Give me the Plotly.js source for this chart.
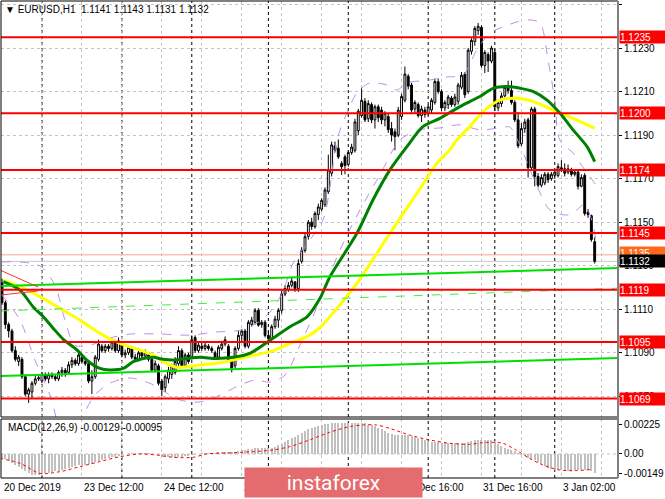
<!DOCTYPE html>
<html><head><meta charset="utf-8">
<script src="https://cdn.plot.ly/plotly-3.0.1.min.js"></script>
<style>html,body{margin:0;padding:0;background:#fff}#chart{width:665px;height:499px}</style>
</head><body><div id="chart"></div>
<script>
// ---------- DATA ----------
const symbolTitle = "\u25BC EURUSD,H1  1.1141 1.1143 1.1131 1.1132";
const macdTitle = "MACD(12,26,9) -0.00129 -0.00095";

const open = [
1.1122,1.1113,1.1103,1.1100,1.1091,1.1086,1.1087,1.1079,1.1071,1.1072,
1.1076,1.1078,1.1077,1.1080,1.1078,1.1080,1.1079,1.1078,1.1081,1.1082,
1.1081,1.10845,1.10865,1.1085,1.1088,1.1086,1.1085,1.1077,1.1079,1.1087,
1.1093,1.1091,1.1093,1.1092,1.1095,1.1091,1.1094,1.1089,1.1090,1.1092,
1.1088,1.1087,1.1090,1.10885,1.1089,1.1087,1.1082,1.1084,1.1077,1.1074,
1.1078,1.1080,1.1081,1.1085,1.1091,1.1084,1.1089,1.1088,1.1097,1.1091,
1.1093,1.1092,1.1093,1.1092,1.1090,1.1088,1.1092,1.1094,1.1093,1.1087,
1.1084,1.1092,1.1098,1.1100,1.1093,1.1103,1.1104,1.11095,1.1103,1.1104,
1.1098,1.10965,1.1102,1.1105,1.11095,1.1117,1.1119,1.1121,1.11225,1.11195,
1.1132,1.1137,1.11435,1.1150,1.1148,1.11535,1.1156,1.1158,1.1164,1.11725,
1.1185,1.1184,1.1177,1.1180,1.11765,1.1182,1.1183,1.1192,1.1199,1.12055,
1.11975,1.1204,1.1197,1.1203,1.12015,1.1197,1.11985,1.1193,1.11915,1.1190,
1.11985,1.1206,1.1217,1.1213,1.1202,1.1204,1.1199,1.12015,1.1200,1.12015,
1.1205,1.12145,1.1210,1.12025,1.1204,1.1207,1.1204,1.12055,1.1212,1.1218,
1.1210,1.12285,1.1233,1.1238,1.12395,1.1222,1.1227,1.1224,1.1228,1.12025,
1.12045,1.1208,1.1212,1.12105,1.1205,1.1197,1.1186,1.1193,1.1197,1.1175,
1.1202,1.1171,1.1167,1.1168,1.1172,1.1170,1.11715,1.11715,1.1175,1.11745,
1.1173,1.1174,1.1172,1.1173,1.11665,1.11715,1.11545,1.1153,1.1141];
const high = [
1.1124,1.1114,1.1104,1.1101,1.1093,1.1089,1.1088,1.1080,1.1074,1.1077,
1.1080,1.1080,1.1081,1.1081,1.1081,1.1081,1.1080,1.1082,1.10835,1.1083,
1.1086,1.1088,1.10875,1.1090,1.1089,1.1087,1.1086,1.1082,1.1089,1.1096,
1.1094,1.1094,1.1094,1.10965,1.1096,1.1097,1.1095,1.10915,1.10935,1.1093,
1.10895,1.1091,1.1091,1.10915,1.1090,1.1088,1.10865,1.1085,1.1078,1.1080,
1.10835,1.1085,1.1088,1.1093,1.1092,1.1090,1.1090,1.1098,1.1098,1.1095,
1.1095,1.10945,1.1094,1.1093,1.1091,1.10935,1.10955,1.10975,1.1094,1.1088,
1.1093,1.1100,1.1101,1.1101,1.1105,1.11065,1.11105,1.11105,1.1105,1.1105,
1.1100,1.1103,1.1107,1.11105,1.11185,1.1121,1.11225,1.1125,1.1123,1.1133,
1.11385,1.1145,1.1151,1.1152,1.1155,1.11585,1.1161,1.1166,1.1181,1.1187,
1.1187,1.1188,1.1178,1.1181,1.1183,1.1186,1.11975,1.1202,1.12115,1.1207,
1.1206,1.1205,1.1204,1.1204,1.1203,1.1201,1.1200,1.1196,1.1193,1.1203,
1.1209,1.12215,1.1218,1.1214,1.1206,1.1205,1.12035,1.1203,1.1204,1.1207,
1.1216,1.1216,1.1211,1.1206,1.12085,1.1208,1.1209,1.1214,1.1219,1.1219,
1.1230,1.12345,1.1240,1.12415,1.12405,1.1229,1.1228,1.1231,1.1230,1.1206,
1.12095,1.1213,1.1215,1.1215,1.1206,1.12005,1.11955,1.11975,1.1198,1.1203,
1.1203,1.11725,1.1172,1.1173,1.1173,1.1173,1.11745,1.1177,1.11785,1.1177,
1.11765,1.1175,1.1174,1.1174,1.1172,1.11725,1.1156,1.11535,1.1143];
const low = [
1.1112,1.1101,1.1097,1.1090,1.1086,1.1084,1.1078,1.1070,1.1067,1.1069,
1.1075,1.1077,1.1076,1.1077,1.1076,1.1078,1.1077,1.1077,1.1079,1.1079,
1.1080,1.1083,1.1084,1.1084,1.1085,1.1084,1.1076,1.1071,1.1078,1.1086,
1.1090,1.1090,1.10905,1.1091,1.1090,1.1090,1.1088,1.10875,1.1089,1.1087,
1.1086,1.1086,1.10875,1.1087,1.1086,1.1081,1.1081,1.1075,1.1070,1.1072,
1.1076,1.1078,1.1080,1.1084,1.1083,1.1083,1.1085,1.1087,1.1090,1.1090,
1.1091,1.1091,1.1091,1.1090,1.1087,1.1087,1.1091,1.1093,1.1086,1.1081,
1.1083,1.1091,1.1095,1.1092,1.1092,1.1102,1.1103,1.1102,1.11015,1.1097,
1.10945,1.1096,1.1101,1.11015,1.1108,1.1116,1.1118,1.1120,1.1118,1.1118,
1.1131,1.1136,1.1142,1.11465,1.1147,1.1151,1.1155,1.1157,1.1163,1.1171,
1.1182,1.1179,1.11717,1.1172,1.11755,1.1181,1.1182,1.1190,1.1198,1.1196,
1.1196,1.11955,1.1193,1.1196,1.1195,1.1194,1.1191,1.1187,1.1183,1.1189,
1.1197,1.1205,1.1211,1.1200,1.1200,1.1198,1.1196,1.1198,1.1199,1.1200,
1.1204,1.1209,1.1201,1.1201,1.1202,1.1203,1.1203,1.1204,1.1211,1.1207,
1.1209,1.1227,1.1231,1.1236,1.1221,1.12185,1.1219,1.1223,1.1201,1.1201,
1.1203,1.1207,1.1209,1.1204,1.1196,1.1184,1.1185,1.1191,1.11705,1.1174,
1.11665,1.1166,1.1166,1.1167,1.1168,1.1169,1.1170,1.11705,1.1173,1.1171,
1.1172,1.1171,1.1171,1.1165,1.1166,1.1153,1.1152,1.1141,1.1131];
const close = [
1.1113,1.1103,1.1100,1.1091,1.1087,1.1088,1.1079,1.1071,1.1073,1.1076,
1.1078,1.10785,1.1080,1.1078,1.1080,1.1079,1.1078,1.1081,1.1082,1.10805,
1.10845,1.10865,1.1085,1.1089,1.1086,1.1085,1.1077,1.1079,1.1088,1.1094,
1.1091,1.1093,1.1092,1.1095,1.1091,1.10955,1.1089,1.1090,1.10925,1.1088,
1.1087,1.1090,1.10885,1.10905,1.1087,1.1082,1.1085,1.1076,1.1073,1.1079,
1.1082,1.1084,1.1086,1.1091,1.1084,1.1089,1.1086,1.1096,1.1091,1.10935,
1.1092,1.10935,1.1092,1.1091,1.10875,1.10925,1.1094,1.1096,1.1087,1.1083,
1.1092,1.1098,1.1100,1.1093,1.1104,1.1105,1.11095,1.11027,1.1104,1.1098,
1.10965,1.1102,1.11055,1.11095,1.1117,1.11195,1.1121,1.1123,1.11195,1.1131,
1.1137,1.11433,1.1150,1.1148,1.1154,1.1157,1.1160,1.11648,1.1174,1.11855,
1.1183,1.1180,1.11755,1.1176,1.1182,1.11845,1.1196,1.1201,1.1206,1.1197,
1.12045,1.1197,1.1203,1.1198,1.1197,1.1200,1.11925,1.1190,1.11893,1.12015,
1.12077,1.1218,1.12125,1.12015,1.1205,1.1199,1.1202,1.11995,1.1203,1.1206,
1.12146,1.1210,1.12025,1.1205,1.12075,1.1204,1.12075,1.1213,1.12175,1.12085,
1.1229,1.12335,1.1239,1.1240,1.1222,1.1228,1.1224,1.1230,1.1203,1.1205,
1.1208,1.1212,1.12105,1.1205,1.1197,1.1185,1.1193,1.1196,1.1175,1.1202,
1.1171,1.1167,1.11705,1.1172,1.11695,1.1172,1.1173,1.11755,1.1174,1.11725,
1.11745,1.1172,1.1173,1.11665,1.11705,1.1154,1.11535,1.1142,1.1132];

const macdHist = [
-0.00030,-0.00040,-0.00052,-0.00068,-0.00085,-0.00100,-0.00118,-0.00135,-0.00150,-0.00160,
-0.00162,-0.00160,-0.00155,-0.00150,-0.00145,-0.00140,-0.00135,-0.00128,-0.00122,-0.00115,
-0.00108,-0.00100,-0.00095,-0.00088,-0.00085,-0.00082,-0.00080,-0.00075,-0.00065,-0.00055,
-0.00048,-0.00040,-0.00033,-0.00025,-0.00020,-0.00012,-0.00005,0.00000,0.00005,0.00005,
0.00008,0.00008,0.00008,0.00008,0.00006,0.00003,-0.00002,-0.00010,-0.00020,-0.00024,
-0.00026,-0.00026,-0.00024,-0.00020,-0.00020,-0.00018,-0.00015,-0.00010,-0.00005,0.00000,
0.00005,0.00008,0.00010,0.00010,0.00010,0.00012,0.00014,0.00016,0.00014,0.00012,
0.00016,0.00022,0.00030,0.00032,0.00035,0.00040,0.00048,0.00045,0.00048,0.00045,
0.00044,0.00050,0.00058,0.00068,0.00080,0.00095,0.00110,0.00125,0.00135,0.00150,
0.00165,0.00178,0.00190,0.00200,0.00210,0.00218,0.00225,0.00230,0.00235,0.00238,
0.00240,0.00240,0.00240,0.00240,0.00242,0.00243,0.00243,0.00243,0.00242,0.00238,
0.00228,0.00222,0.00215,0.00205,0.00190,0.00175,0.00162,0.00152,0.00148,0.00147,
0.00147,0.00148,0.00147,0.00140,0.00130,0.00122,0.00118,0.00110,0.00100,0.00095,
0.00095,0.00092,0.00085,0.00082,0.00082,0.00080,0.00082,0.00085,0.00088,0.00085,
0.00092,0.00100,0.00108,0.00112,0.00110,0.00108,0.00108,0.00110,0.00100,0.00075,
0.00060,0.00048,0.00040,0.00030,0.00020,0.00010,-0.00005,-0.00015,-0.00028,-0.00035,
-0.00050,-0.00065,-0.00080,-0.00095,-0.00108,-0.00118,-0.00122,-0.00125,-0.00127,-0.00128,
-0.00130,-0.00130,-0.00128,-0.00127,-0.00125,-0.00124,-0.00122,-0.00135,-0.00150];

const signalIdx = [-0.6,5.4,11.4,17.4,23.4,29.4,35.4,41.4,46.4,51.4,57.4,61.4,69.4,75.4,81.4,86.4,92.4,98.4,104.4,108.4,112.4,116.4,122.4,128.4,134.4,140.4,145.4,150.4,154.4,158.4,162.4,167.4,172.4,177.4];
const signalVal = [-0.00034,-0.00072,-0.00150,-0.00137,-0.00098,-0.00059,-0.00021,0.00000,-0.00008,-0.00026,-0.00026,0.00000,0.00010,0.00018,0.00031,0.00057,0.00109,0.00168,0.00212,0.00225,0.00225,0.00199,0.00147,0.00109,0.00083,0.00075,0.00090,0.00083,0.00031,-0.00034,-0.00085,-0.00124,-0.00129,-0.00119];

const maFastIdx = [0.4,5.4,9.3,12.4,15.4,18.4,22.5,25.4,29.4,32.4,36.4,39.4,42.4,45.4,48.4,51.5,55.5,59.5,64.4,69.4,74.4,80.5,86.5,91.6,95.5,98.5,106.6,111.4,116.5,121.6,126.4,131.5,136.6,140.5,143.5,147.5,151.6,155.6,159.6,163.7,167.6,171.5,175.7,178];
const maFastVal = [1.11227,1.11188,1.11112,1.11066,1.11012,1.10962,1.10913,1.10867,1.10828,1.10821,1.10828,1.10859,1.10874,1.10879,1.10870,1.10867,1.10874,1.10879,1.10874,1.10879,1.10897,1.10958,1.11020,1.11065,1.11150,1.11250,1.11449,1.11602,1.11740,1.11847,1.11939,1.11977,1.12023,1.12054,1.12077,1.12115,1.12123,1.12115,1.12100,1.12061,1.12000,1.11924,1.11847,1.11778];
const maSlowIdx = [0.4,5.4,11.4,17.4,23.4,29.4,35.4,41.4,45.4,49.4,52.4,55.5,59.5,65.5,71.4,74.4,80.5,86.5,91.6,95.5,97.6,106.6,116.5,124.6,130.6,134.5,136.6,140.5,143.5,145.6,149.5,154.6,159.6,165.5,171.5,178];
const maSlowVal = [1.11234,1.11204,1.11158,1.11104,1.11050,1.10989,1.10943,1.10913,1.10890,1.10851,1.10833,1.10836,1.10844,1.10854,1.10874,1.10885,1.10905,1.10943,1.10974,1.11015,1.11050,1.11219,1.11449,1.11632,1.11770,1.11832,1.11878,1.11939,1.11992,1.12023,1.12061,1.12069,1.12054,1.12015,1.11977,1.11931];

const bandUpIdx = [0,5.4,11.4,15.9,18.9,21.9,26.4,32.4,38.4,47.4,56.5,64.0,71.5,76.6,80.5,83.5,85.6,87.4,96.4,98.5,100.6,103.6,106.6,110.5,115.6,118.6,121.6,128.5,133.6,138.4,142.6,146.5,150.5,154.7,158.6,161.6,164,166,167.5,171.5,173.6,175.7,178.4];
const bandUpVal = [1.11317,1.11317,1.11299,1.11211,1.11050,1.10935,1.10935,1.10968,1.10986,1.10986,1.10981,1.10995,1.11004,1.11037,1.11087,1.11156,1.11234,1.11312,1.11510,1.11662,1.11878,1.12002,1.12094,1.12140,1.12130,1.12107,1.12140,1.12153,1.12167,1.12176,1.12291,1.12369,1.12397,1.12420,1.12429,1.12415,1.12245,1.12061,1.11878,1.11818,1.11772,1.11726,1.11671];
const bandLoIdx = [0,5.4,9.9,14.4,18.9,23.4,27.9,32.4,38.4,44.4,49,53.5,59.5,65.5,71.5,76,80.5,85,89.5,95.5,101.5,107.5,113.5,119.5,125.5,131.5,137.5,143.5,149.5,152.5,155.5,158.6,161.6,163.7,165.5,169.7,172.7,174.5,176.6,178.4];
const bandLoVal = [1.11165,1.11050,1.10867,1.10706,1.10499,1.10590,1.10706,1.10760,1.10784,1.10760,1.10719,1.10683,1.10674,1.10706,1.10752,1.10775,1.10765,1.10798,1.10936,1.11142,1.11372,1.11556,1.11717,1.11878,1.11924,1.11933,1.11947,1.11924,1.11933,1.11937,1.11855,1.11740,1.11634,1.11570,1.11547,1.11533,1.11556,1.11579,1.11533,1.11418];

const levels = [1.1235,1.1200,1.1174,1.1145,1.1119,1.1095,1.1069];
const levelLabels = ["1.1235","1.1200","1.1174","1.1145","1.1119","1.1095","1.1069"];
const askPrice = 1.1135, askLabel = "1.1135";
const bidPrice = 1.1132, bidLabel = "1.1132";

const trendUpIdx = [-0.6,185],   trendUpVal = [1.11207,1.11289];
const trendLoIdx = [-0.6,185],   trendLoVal = [1.10793,1.10876];
const trendDashIdx = [-0.6,185], trendDashVal = [1.11092,1.11197];
const redFan1Idx = [-0.6,10.8],  redFan1Val = [1.11280,1.11202];
const redFan2Idx = [-0.6,10.8],  redFan2Val = [1.11165,1.11184];

const priceTicks = [1.1250,1.1230,1.1210,1.1190,1.1170,1.1150,1.1130,1.1110,1.1090,1.1070];
const priceTickText = ["1.1250","1.1230","1.1210","1.1190","1.1170","1.1150","1.1130","1.1110","1.1090","1.1070"];
const macdTicks = [0.00225,0,-0.00149];
const macdTickText = ["0.00225","0.00","-0.00149"];
const timeIdx = [0,24,48,72,96,120,144,168];
const timeLabels = ["20 Dec 2019","23 Dec 12:00","24 Dec 12:00","26 Dec 16:00","27 Dec 16:00","30 Dec 16:00","31 Dec 16:00","3 Jan 02:00"];
const daySeparators = [12,36,57,80,104,128,148,166];
const gridIdx = [0,12,24,36,48,60,72,84,96,108,120,132,144,156,168,180];
const watermarkText = "instaforex";

// ---------- GEOMETRY HELPERS (pixel -> paper) ----------
const W = 665, H = 499, L = 1, R = 47, T = 1, B = 21;
const pw = W - L - R, ph = H - T - B;
const px = x => (x - L) / pw;
const py = y => (H - B - y) / ph;

const barIdx = open.map((_, k) => k);

const traces = [];
traces.push({type:'candlestick', x:barIdx, open:open, high:high, low:low, close:close,
  xaxis:'x', yaxis:'y', whiskerwidth:0,
  increasing:{line:{color:'#000000', width:1}, fillcolor:'#ffffff'},
  decreasing:{line:{color:'#000000', width:1}, fillcolor:'#000000'},
  hoverinfo:'skip'});
const line = (xs, ys, color, width, dash, shape, ax) => ({type:'scatter', mode:'lines', x:xs, y:ys,
  xaxis: ax ? 'x2' : 'x', yaxis: ax ? 'y2' : 'y', hoverinfo:'skip',
  line:{color:color, width:width, dash:dash || 'solid', shape:shape || 'linear', smoothing:0.8}, cliponaxis:true});
traces.push(line(bandUpIdx, bandUpVal, '#c48be8', 1, 'dash', 'spline'));
traces.push(line(bandLoIdx, bandLoVal, '#c48be8', 1, 'dash', 'spline'));
traces.push(line(maSlowIdx, maSlowVal, '#ffff00', 3, 'solid', 'spline'));
traces.push(line(maFastIdx, maFastVal, '#008000', 3, 'solid', 'spline'));
traces.push(line(trendUpIdx, trendUpVal, '#00e000', 2));
traces.push(line(trendLoIdx, trendLoVal, '#00e000', 2));
traces.push(line(trendDashIdx, trendDashVal, '#44ee44', 1, 'dash'));
traces.push(line(redFan1Idx, redFan1Val, '#ff3030', 1));
traces.push(line(redFan2Idx, redFan2Val, '#ff3030', 1));
traces.push({type:'bar', x:barIdx, y:macdHist, xaxis:'x2', yaxis:'y2', marker:{color:'#c0c0c0', line:{width:0}}, width:0.6, hoverinfo:'skip'});
traces.push(line(signalIdx, signalVal, '#ff0000', 1, 'dot', 'spline', true));

const shapes = [];
daySeparators.forEach(d => {
  shapes.push({type:'line', xref:'x', yref:'y domain', x0:d, x1:d, y0:0, y1:1, layer:'below', line:{color:'#000', width:1, dash:'3px,3px'}});
  shapes.push({type:'line', xref:'x', yref:'y2 domain', x0:d, x1:d, y0:0, y1:1, layer:'below', line:{color:'#000', width:1, dash:'3px,3px'}});
});
shapes.push({type:'line', xref:'paper', yref:'y', x0:0, x1:1, y0:askPrice, y1:askPrice, layer:'below', line:{color:'#f4a58a', width:1}});
shapes.push({type:'line', xref:'paper', yref:'y', x0:0, x1:1, y0:bidPrice, y1:bidPrice, layer:'below', line:{color:'#c8c8c8', width:1}});
levels.forEach(v => shapes.push({type:'line', xref:'paper', yref:'y', x0:0, x1:1, y0:v, y1:v, line:{color:'#ff0000', width:2}}));
shapes.push({type:'line', xref:'paper', yref:'y2', x0:0, x1:1, y0:0, y1:0, layer:'below', line:{color:'#c0c0c0', width:1, dash:'3px,3px'}});
shapes.push({type:'rect', xref:'paper', yref:'y domain', x0:0, x1:1, y0:0, y1:1, line:{color:'#000', width:1}});
shapes.push({type:'rect', xref:'paper', yref:'y2 domain', x0:0, x1:1, y0:0, y1:1, line:{color:'#000', width:1}});
shapes.push({type:'line', xref:'paper', yref:'paper', x0:1, x1:1, y0:0, y1:1, line:{color:'#808080', width:2}});

const FONT = 'Liberation Sans, Arial, sans-serif';
const annotations = [];
annotations.push({xref:'paper', yref:'paper', x:px(3), y:py(10), xanchor:'left', yanchor:'middle', showarrow:false, text:symbolTitle, font:{family:FONT, size:10, color:'#000'}});
annotations.push({xref:'paper', yref:'paper', x:px(6), y:py(427), xanchor:'left', yanchor:'middle', showarrow:false, text:macdTitle, font:{family:FONT, size:10, color:'#000'}});
levels.forEach((v, k) => annotations.push({xref:'paper', yref:'y', x:1, y:v, xanchor:'left', yanchor:'middle', xshift:1, showarrow:false,
  text:levelLabels[k], bgcolor:'#ff0000', width:46, height:12, align:'left', borderpad:0, font:{family:FONT, size:10, color:'#ffffff'}}));
annotations.push({xref:'paper', yref:'y', x:1, y:askPrice, xanchor:'left', yanchor:'middle', xshift:1, yshift:2, showarrow:false,
  text:askLabel, bgcolor:'#ff6a1a', width:46, height:12, align:'left', borderpad:0, font:{family:FONT, size:10, color:'#ffffff'}});
annotations.push({xref:'paper', yref:'y', x:1, y:bidPrice, xanchor:'left', yanchor:'middle', xshift:1, showarrow:false,
  text:bidLabel, bgcolor:'#000000', width:46, height:12, align:'left', borderpad:0, font:{family:FONT, size:10, color:'#ffffff'}});
timeIdx.forEach((t, k) => annotations.push({xref:'x', yref:'paper', x:t, y:py(488), xanchor:'left', yanchor:'middle', showarrow:false,
  text:timeLabels[k], font:{family:FONT, size:10, color:'#000'}}));
annotations.push({xref:'paper', yref:'paper', x:px(333.5), y:py(482.5), xanchor:'center', yanchor:'middle', showarrow:false,
  text:watermarkText, bgcolor:'#e46b6e', width:177, height:29, borderpad:0, font:{family:'Roboto, sans-serif', size:21, color:'#ffffff'}});

const axX = {range:[-0.3,185], showticklabels:false, ticks:'', tickvals:gridIdx, showgrid:true, gridcolor:'#c4c4c4', griddash:'3px,3px', gridwidth:1, zeroline:false, showline:false, fixedrange:true};
const layout = {
  width:W, height:H, margin:{l:L, r:R, t:T, b:B, pad:0},
  paper_bgcolor:'#ffffff', plot_bgcolor:'#ffffff', showlegend:false, bargap:0, boxgap:0.2,
  font:{family:FONT, size:10, color:'#000'},
  xaxis: Object.assign({}, axX, {anchor:'y', rangeslider:{visible:false}}),
  xaxis2: Object.assign({}, axX, {anchor:'y2', matches:'x'}),
  yaxis: {domain:[py(417), 1], range:[1.10605, 1.12516], side:'right', tickvals:priceTicks, ticktext:priceTickText,
    showgrid:true, gridcolor:'#c4c4c4', griddash:'3px,3px', zeroline:false, showline:false,
    ticks:'outside', ticklen:3, tickcolor:'#000', tickfont:{family:FONT, size:10, color:'#000'}, fixedrange:true},
  yaxis2: {domain:[0, py(419)], range:[-0.00186, 0.00271], side:'right', tickvals:macdTicks, ticktext:macdTickText,
    showgrid:false, zeroline:false, showline:false,
    ticks:'outside', ticklen:3, tickcolor:'#000', tickfont:{family:FONT, size:10, color:'#000'}, fixedrange:true},
  shapes:shapes, annotations:annotations
};
Plotly.newPlot('chart', traces, layout, {staticPlot:true, displayModeBar:false});
</script></body></html>
